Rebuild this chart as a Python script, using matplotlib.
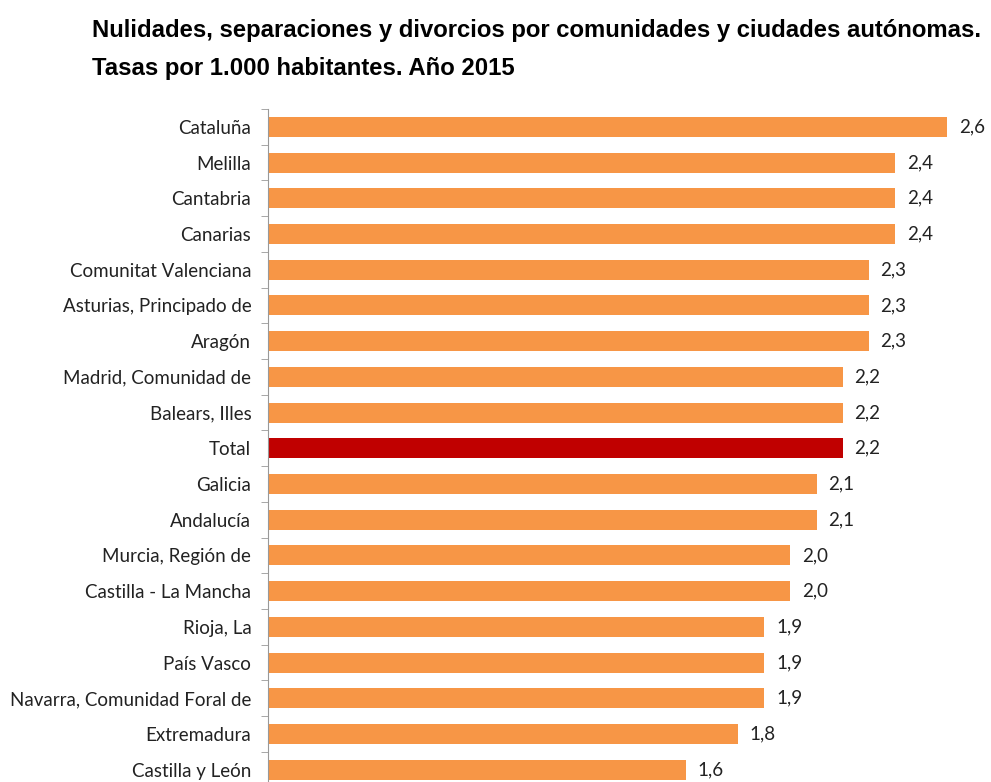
import numpy as np
import matplotlib.pyplot as plt

regiones = ['Cataluña', 'Melilla', 'Cantabria', 'Canarias', 'Comunitat Valenciana',
            'Asturias, Principado de', 'Aragón', 'Madrid, Comunidad de', 'Balears, Illes',
            'Total', 'Galicia', 'Andalucía', 'Murcia, Región de', 'Castilla - La Mancha',
            'Rioja, La', 'País Vasco', 'Navarra, Comunidad Foral de', 'Extremadura',
            'Castilla y León']
tasas = [2.6, 2.4, 2.4, 2.4, 2.3, 2.3, 2.3, 2.2, 2.2, 2.2, 2.1, 2.1, 2.0, 2.0,
         1.9, 1.9, 1.9, 1.8, 1.6]

naranja = '#F79646'
rojo = '#C00000'
colores = [rojo if r == 'Total' else naranja for r in regiones]

fig = plt.figure(figsize=(9.91, 7.82), dpi=100)
# eje: arriba en y=109 px, 19 filas de ~35.7 px
ax = fig.add_axes([268 / 991, (782 - 109 - 678.6) / 782, 1 - 268 / 991, 678.6 / 782])

y = np.arange(len(regiones))
ax.barh(y, tasas, height=0.56, color=colores)
ax.set_ylim(len(regiones) - 0.5, -0.5)
ax.set_xlim(0, 2.768)

ax.set_yticks(y)
ax.set_yticklabels(regiones, family='Lato', fontsize=13.5, color='#222222')
ax.tick_params(axis='y', which='major', length=0, pad=12)
ax.set_yticks(np.arange(-0.5, len(regiones), 1), minor=True)
ax.tick_params(axis='y', which='minor', length=5, color='#999999')
ax.set_xticks([])
for s in ['top', 'right', 'bottom']:
    ax.spines[s].set_visible(False)
ax.spines['left'].set_color('#999999')

for yi, v in zip(y, tasas):
    ax.text(v + 0.045, yi, f'{v:.1f}'.replace('.', ','), va='center', ha='left',
            family='Lato', fontsize=13.5, color='#222222')

titulo1 = 'Nulidades, separaciones y divorcios por comunidades y ciudades autónomas.'
titulo2 = 'Tasas por 1.000 habitantes. Año 2015'
fig.text(92 / 991, 1 - 31 / 782, titulo1, ha='left', va='center',
         family='Liberation Sans', weight='bold', fontsize=17.2, color='black')
fig.text(92 / 991, 1 - 68 / 782, titulo2, ha='left', va='center',
         family='Liberation Sans', weight='bold', fontsize=17.2, color='black')

fig.savefig('out.png', dpi=100)
